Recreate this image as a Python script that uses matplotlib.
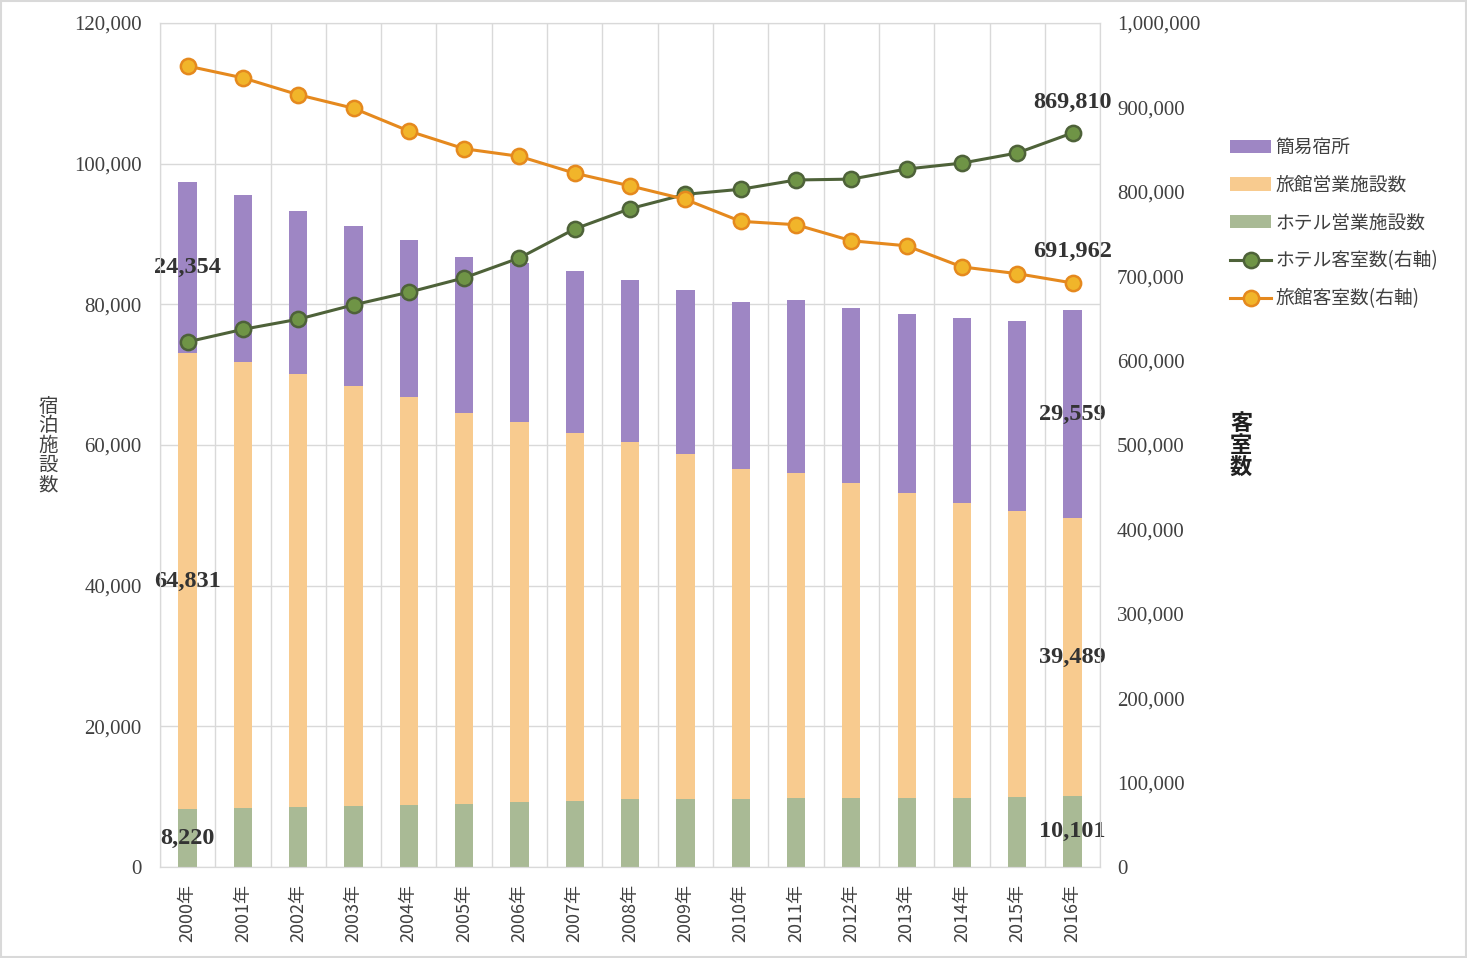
import matplotlib
matplotlib.use("Agg")
import matplotlib.pyplot as plt
from matplotlib.ticker import FuncFormatter, MultipleLocator
import numpy as np

plt.rcParams['font.family'] = ['Noto Sans CJK JP', 'DejaVu Sans']

# ---------------------------------------------------------------------------
# データ
# ---------------------------------------------------------------------------
years = [f"{y}年" for y in range(2000, 2017)]

hotel_facilities = [8220, 8363, 8518, 8686, 8811, 8990, 9180, 9442, 9603,
                    9688, 9710, 9863, 9796, 9809, 9879, 9967, 10101]
ryokan_facilities = [64831, 63388, 61583, 59754, 58003, 55567, 54107, 52295,
                     50846, 48966, 46906, 46196, 44744, 43363, 41899, 40661,
                     39489]
simple_lodging = [24354, 23800, 23200, 22700, 22300, 22200, 22600, 23000,
                  23000, 23400, 23700, 24500, 24900, 25400, 26300, 27000,
                  29559]
hotel_rooms = [622175, 637000, 649000, 666000, 681000, 698000, 721600,
               756000, 780000, 797000, 803000, 814000, 815000, 827000,
               834000, 846000, 869810]
ryokan_rooms = [949000, 935000, 915000, 899000, 872000, 851000, 842000,
                822000, 807000, 791000, 765000, 761000, 742000, 736000,
                711000, 703000, 691962]

C_SIMPLE = "#9E86C4"
C_RYOKAN = "#F8CB8F"
C_HOTEL = "#A9BA95"
C_HOTEL_LINE = "#4E6239"
C_HOTEL_MK = "#6F9446"
C_RYOKAN_LINE = "#E5891E"
C_RYOKAN_MK = "#F1B52A"
TXT = "#404040"
GRID = "#D9D9D9"
NUM_FONT = ["Liberation Serif", "DejaVu Serif"]

fig = plt.figure(figsize=(14.67, 9.58), dpi=100)
fig.patches.append(plt.Rectangle((0.001, 0.001), 0.998, 0.998, transform=fig.transFigure,
                                 fill=False, edgecolor=GRID, linewidth=1.5))
ax = fig.add_axes([0.109, 0.095, 0.641, 0.881])
x = np.arange(len(years))
w = 0.33

h = np.array(hotel_facilities)
r = np.array(ryokan_facilities)
s = np.array(simple_lodging)
ax.bar(x, h, w, color=C_HOTEL, label="ホテル営業施設数", zorder=2)
ax.bar(x, r, w, bottom=h, color=C_RYOKAN, label="旅館営業施設数", zorder=2)
ax.bar(x, s, w, bottom=h + r, color=C_SIMPLE, label="簡易宿所", zorder=2)

ax.set_xlim(-0.5, len(years) - 0.5)
ax.set_ylim(0, 120000)
ax.yaxis.set_major_locator(MultipleLocator(20000))
ax.yaxis.set_major_formatter(FuncFormatter(lambda v, p: f"{int(v):,}"))
ax.set_xticks(x)
ax.set_xticklabels(years, rotation=90, fontsize=13, color=TXT)
ax.tick_params(axis="both", length=0, colors=TXT)
ax.tick_params(axis="y", pad=13)
ax.tick_params(axis="x", pad=12)
for t in ax.get_yticklabels():
    t.set_fontfamily(NUM_FONT)
    t.set_fontsize(15)
for b in np.arange(-0.5, len(years), 1.0):
    ax.axvline(b, color=GRID, linewidth=1, zorder=0)
ax.yaxis.grid(True, color=GRID, linewidth=1, zorder=0)
ax.set_axisbelow(True)
for sp in ax.spines.values():
    sp.set_color(GRID)

# データラベル
lab_kw = dict(ha="center", va="center", fontsize=17.5, fontweight="bold",
              color="#333333", family=NUM_FONT, zorder=6)
for i in (0, len(years) - 1):
    ax.text(x[i], h[i] / 2, f"{h[i]:,}", **lab_kw)
    ax.text(x[i], h[i] + r[i] / 2, f"{r[i]:,}", **lab_kw)
    ax.text(x[i], h[i] + r[i] + s[i] / 2, f"{s[i]:,}", **lab_kw)

ax2 = ax.twinx()
ax2.set_ylim(0, 1000000)
ax2.yaxis.set_major_locator(MultipleLocator(100000))
ax2.yaxis.set_major_formatter(FuncFormatter(lambda v, p: f"{int(v):,}"))
ax2.tick_params(axis="y", length=0, colors=TXT, pad=12)
for t in ax2.get_yticklabels():
    t.set_fontfamily(NUM_FONT)
    t.set_fontsize(15)
for sp in ax2.spines.values():
    sp.set_color(GRID)

ax2.plot(x, hotel_rooms, color=C_HOTEL_LINE, linewidth=2.2, marker="o",
         markersize=11, markerfacecolor=C_HOTEL_MK, markeredgecolor=C_HOTEL_LINE,
         markeredgewidth=1.8, label="ホテル客室数(右軸)", zorder=4)
ax2.plot(x, ryokan_rooms, color=C_RYOKAN_LINE, linewidth=2.2, marker="o",
         markersize=11, markerfacecolor=C_RYOKAN_MK, markeredgecolor=C_RYOKAN_LINE,
         markeredgewidth=1.8, label="旅館客室数(右軸)", zorder=5)
last = len(years) - 1
ax2.annotate(f"{hotel_rooms[last]:,}", (x[last], hotel_rooms[last]),
             xytext=(0, 22), textcoords="offset points", **lab_kw)
ax2.annotate(f"{ryokan_rooms[last]:,}", (x[last], ryokan_rooms[last]),
             xytext=(0, 23), textcoords="offset points", **lab_kw)

# 軸ラベル (縦書き)
fig.text(0.033, 0.535, "\n".join("宿泊施設数"), ha="center", va="center",
         fontsize=14, color=TXT, linespacing=0.92)
fig.text(0.846, 0.535, "\n".join("客室数"), ha="center", va="center",
         fontsize=16, fontweight="bold", color="#202020", linespacing=0.92)

# 凡例
h1, l1 = ax.get_legend_handles_labels()
h2, l2 = ax2.get_legend_handles_labels()
handles = h1[::-1] + h2
labels = l1[::-1] + l2
fig.legend(handles, labels, loc="upper left", bbox_to_anchor=(0.827, 0.875),
           frameon=False, fontsize=13.5, labelcolor=TXT, handlelength=2.2,
           handletextpad=0.2, labelspacing=0.9)

fig.savefig("out.png", dpi=100)
